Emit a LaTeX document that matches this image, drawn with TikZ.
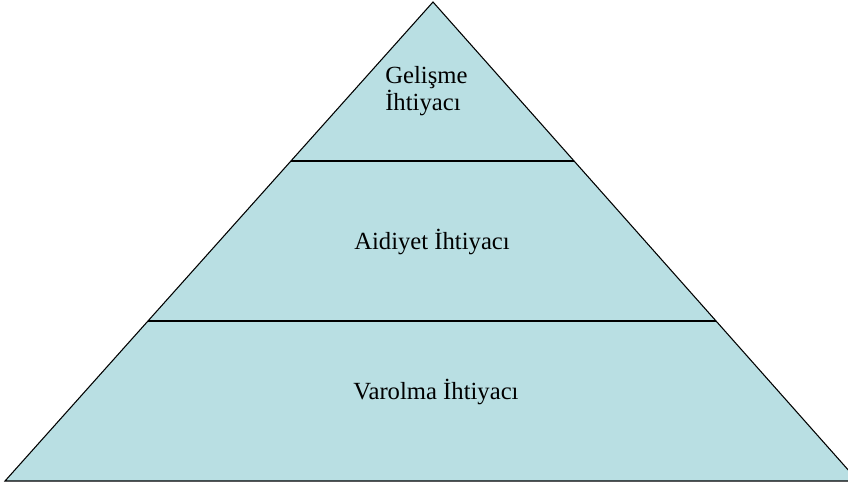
\documentclass[tikz,border=0pt]{standalone}
\usepackage{fontspec}
\setmainfont{Liberation Serif}
\usetikzlibrary{calc}
\definecolor{pyrfill}{RGB}{185,223,227}
\tikzset{
  label text/.style={font=\fontsize{18.5}{19}\selectfont, align=left, inner sep=0pt},
}
\begin{document}
\begin{tikzpicture}[x=0.75pt,y=-0.75pt]
    \clip (0,0) rectangle (848,482);
    \coordinate (apex) at (433,2);
    \coordinate (bl) at (5,481);
    \coordinate (br) at (858,481);
    \draw[fill=pyrfill, line width=0.8pt, line join=miter] (apex) -- (bl) -- (br) -- cycle;
    \draw[line width=0.8pt] ($(apex)!0.332!(bl)$) coordinate (l1) -- ($(apex)!0.332!(br)$) coordinate (r1);
    \draw[line width=0.8pt] ($(apex)!0.666!(bl)$) coordinate (l2) -- ($(apex)!0.666!(br)$) coordinate (r2);
    \node[label text, anchor=west] (gelisme) at (385,91.5) {Gelişme\\İhtiyacı};
    \node[label text] (aidiyet) at (432,242) {Aidiyet İhtiyacı};
    \node[label text] (varolma) at (436,392) {Varolma İhtiyacı};
\end{tikzpicture}
\end{document}
